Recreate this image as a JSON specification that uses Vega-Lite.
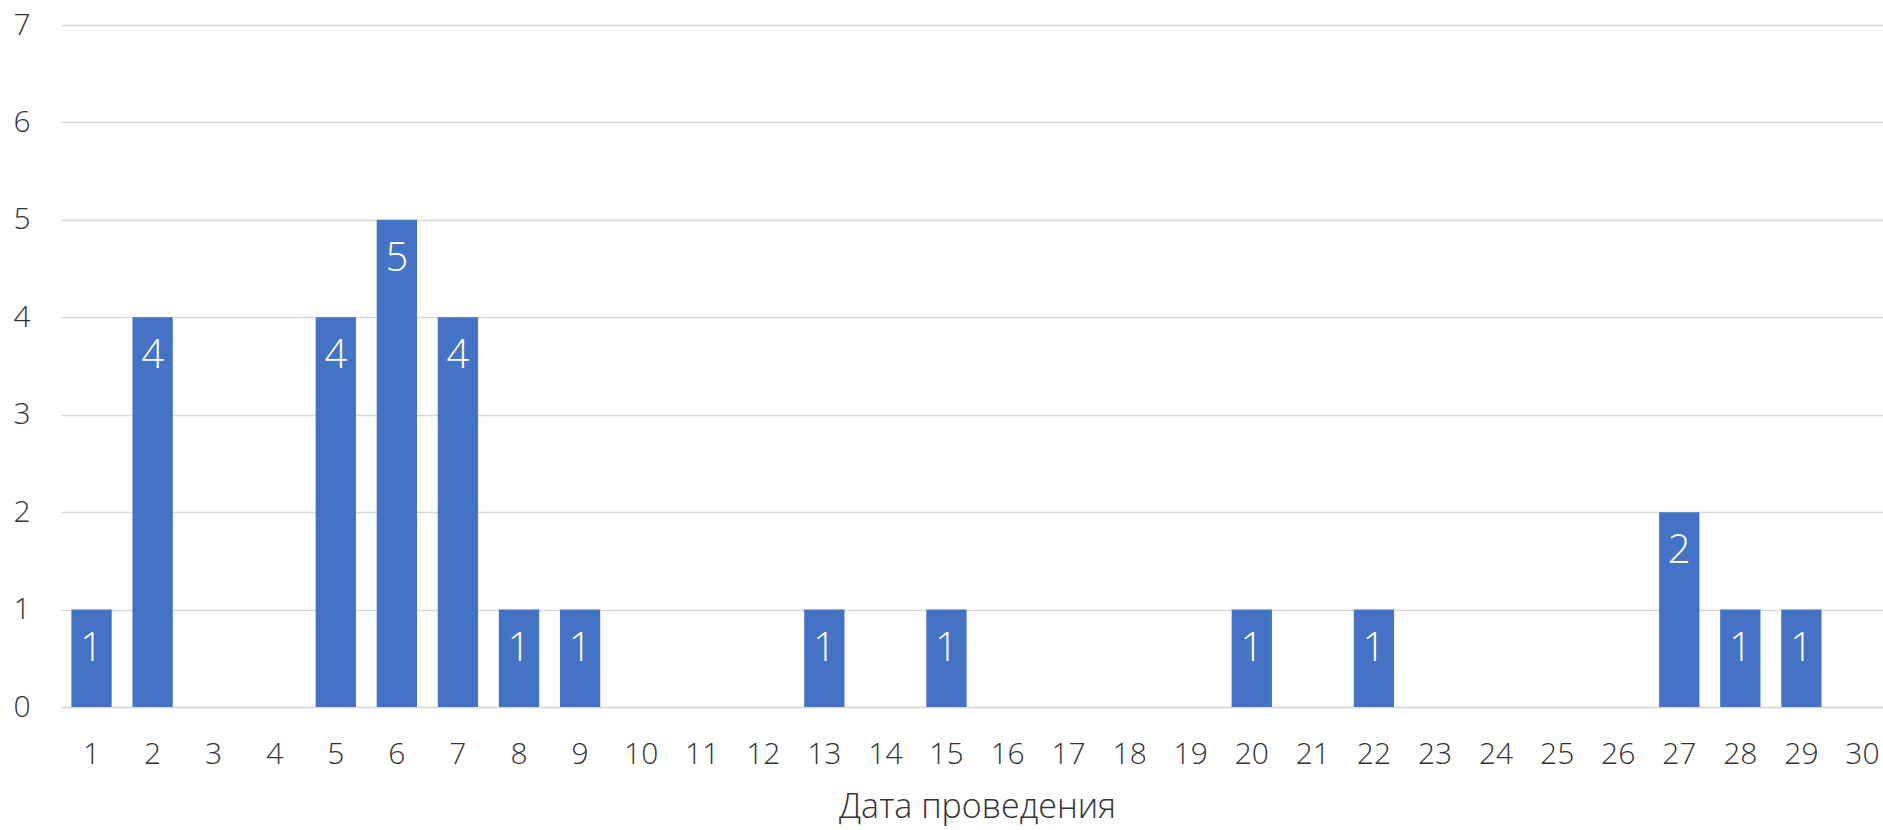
{
  "$schema": "https://vega.github.io/schema/vega-lite/v6.json",
  "autosize": {"type": "none"},
  "width": 1822,
  "height": 682,
  "padding": {"left": 61, "top": 25, "right": 0, "bottom": 123},
  "background": "white",
  "config": {
    "view": {"stroke": null},
    "font": "Open Sans",
    "axis": {"labelFont": "Open Sans", "titleFont": "Open Sans", "labelFontWeight": 300, "titleFontWeight": 300, "labelColor": "#333333", "titleColor": "#333333"}
  },
  "data": {"values": [
    {"day": 1, "count": 1}, {"day": 2, "count": 4}, {"day": 3, "count": 0}, {"day": 4, "count": 0},
    {"day": 5, "count": 4}, {"day": 6, "count": 5}, {"day": 7, "count": 4}, {"day": 8, "count": 1},
    {"day": 9, "count": 1}, {"day": 10, "count": 0}, {"day": 11, "count": 0}, {"day": 12, "count": 0},
    {"day": 13, "count": 1}, {"day": 14, "count": 0}, {"day": 15, "count": 1}, {"day": 16, "count": 0},
    {"day": 17, "count": 0}, {"day": 18, "count": 0}, {"day": 19, "count": 0}, {"day": 20, "count": 1},
    {"day": 21, "count": 0}, {"day": 22, "count": 1}, {"day": 23, "count": 0}, {"day": 24, "count": 0},
    {"day": 25, "count": 0}, {"day": 26, "count": 0}, {"day": 27, "count": 2}, {"day": 28, "count": 1},
    {"day": 29, "count": 1}, {"day": 30, "count": 0}
  ]},
  "encoding": {
    "x": {
      "field": "day", "type": "ordinal",
      "scale": {"range": [0, 1832], "paddingInner": 0.34, "paddingOuter": 0.17},
      "axis": {
        "title": "Дата проведения", "titleFontSize": 34, "titleBaseline": "middle", "titleY": 100,
        "labelAngle": 0, "labelFontSize": 30, "labelBaseline": "middle", "labelPadding": 47,
        "ticks": false, "tickSize": 0, "domain": true, "domainColor": "#D9D9D9", "domainWidth": 1.5, "grid": false
      }
    },
    "y": {
      "field": "count", "type": "quantitative",
      "scale": {"domain": [0, 7], "nice": false},
      "axis": {
        "title": null, "values": [0, 1, 2, 3, 4, 5, 6, 7], "labelFontSize": 30, "labelPadding": 31,
        "ticks": false, "tickSize": 0, "domain": false, "grid": true, "gridColor": "#D9D9D9", "gridWidth": 1.5
      }
    }
  },
  "layer": [
    {"mark": {"type": "bar", "color": "#4472C4"}},
    {
      "transform": [{"filter": "datum.count > 0"}],
      "mark": {"type": "text", "color": "white", "fontSize": 40, "fontWeight": 300, "font": "Open Sans", "baseline": "middle", "align": "center", "dy": 39},
      "encoding": {"text": {"field": "count", "type": "quantitative"}}
    }
  ]
}
